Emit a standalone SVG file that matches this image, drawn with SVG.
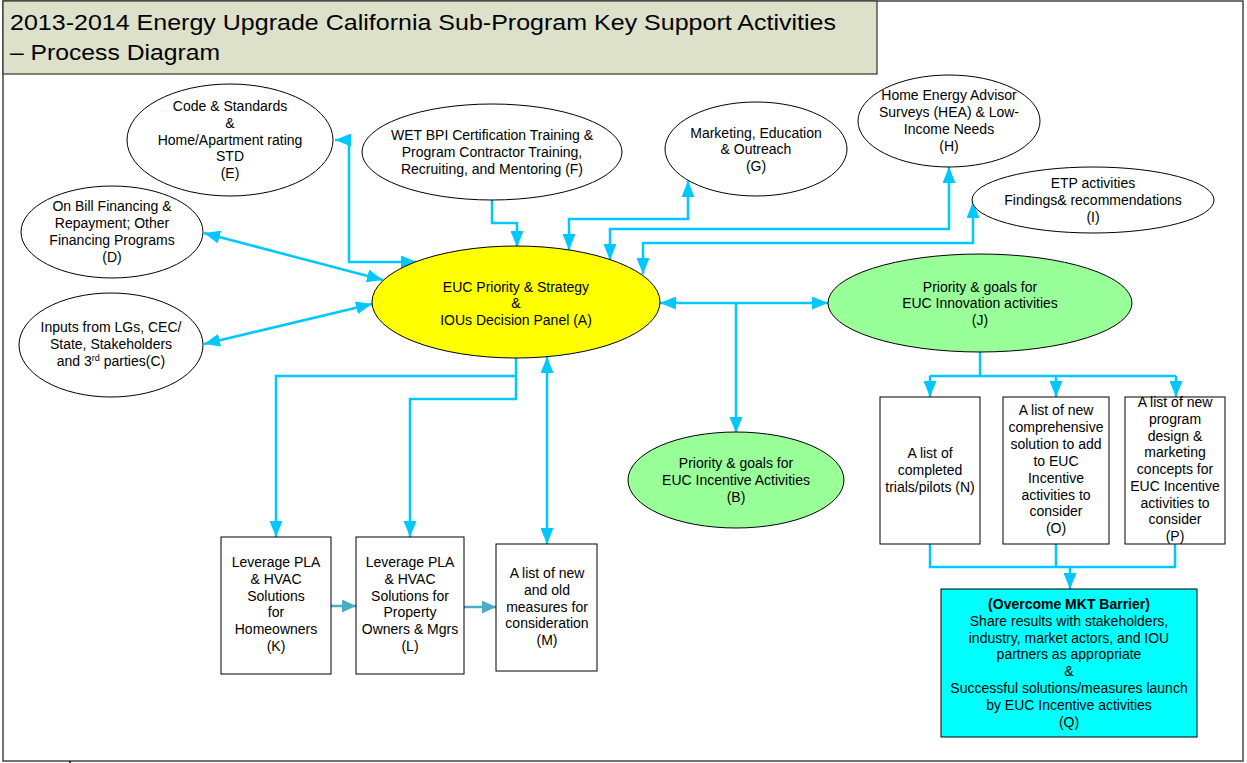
<svg xmlns="http://www.w3.org/2000/svg" width="1247" height="763" viewBox="0 0 1247 763">
<style>
text{font-family:"Liberation Sans",Arial,sans-serif;font-size:14px;fill:#000;text-anchor:middle}
.title{font-size:22px;text-anchor:start}
.node{stroke:#000;stroke-width:1}
.c{fill:none;stroke:#00C8FF;stroke-width:2.5}
.t{fill:none;stroke:#4BACC6;stroke-width:2.5}
</style>
<defs>
<marker id="ah" markerUnits="userSpaceOnUse" markerWidth="17" markerHeight="13" refX="16" refY="6.5" orient="auto-start-reverse"><path d="M0,0 L16,6.5 L0,13 z" fill="#00C8FF"/></marker>
<marker id="at" markerUnits="userSpaceOnUse" markerWidth="15" markerHeight="13" refX="14" refY="6.5" orient="auto"><path d="M0,0 L14,6.5 L0,13 z" fill="#4BACC6"/></marker>
</defs>
<rect x="3" y="1" width="1240" height="760" fill="#fff" stroke="#444" stroke-width="1.5"/>
<line x1="70" y1="761" x2="70" y2="763" stroke="#000" stroke-width="1.5"/>
<g id="title">
<rect x="3" y="1" width="874" height="73" fill="#DDE1C9" stroke="#333" stroke-width="1.2"/>
<text class="title" x="10" y="30" textLength="826" lengthAdjust="spacingAndGlyphs">2013-2014 Energy Upgrade California Sub-Program Key Support Activities</text>
<text class="title" x="10" y="60" textLength="210" lengthAdjust="spacingAndGlyphs">– Process Diagram</text>
</g>
<g id="connectors">
<path class="c" d="M335,140 H349 V262 H417" marker-start="url(#ah)" marker-end="url(#ah)"/>
<path class="c" d="M204,233 L383,280" marker-start="url(#ah)" marker-end="url(#ah)"/>
<path class="c" d="M204,344 L372,304" marker-start="url(#ah)" marker-end="url(#ah)"/>
<path class="c" d="M492,200 V223 H517 V247" marker-end="url(#ah)"/>
<path class="c" d="M569,250 V219 H688 V181" marker-start="url(#ah)" marker-end="url(#ah)"/>
<path class="c" d="M610,260 V229 H949 V167" marker-start="url(#ah)" marker-end="url(#ah)"/>
<path class="c" d="M643,274 V243 H973 V202" marker-start="url(#ah)" marker-end="url(#ah)"/>
<path class="c" d="M660,303 H828" marker-start="url(#ah)" marker-end="url(#ah)"/>
<path class="c" d="M736,303 V433" marker-end="url(#ah)"/>
<path class="c" d="M980,352 V376"/>
<path class="c" d="M930,376 H1176"/>
<path class="c" d="M930,376 V397" marker-end="url(#ah)"/>
<path class="c" d="M1056,376 V397" marker-end="url(#ah)"/>
<path class="c" d="M1176,376 V397" marker-end="url(#ah)"/>
<path class="c" d="M930,544 V567 H1175 V544"/>
<path class="c" d="M1056,544 V567"/>
<path class="c" d="M1070,567 V589" marker-end="url(#ah)"/>
<path class="c" d="M516,358 V399 H410 V537" marker-end="url(#ah)"/>
<path class="c" d="M516,376 H276 V537" marker-end="url(#ah)"/>
<path class="c" d="M547,357 V544" marker-start="url(#ah)" marker-end="url(#ah)"/>
<path class="t" d="M331,606 H356" marker-end="url(#at)"/>
<path class="t" d="M464,607 H496" marker-end="url(#at)"/>
</g>
<g id="E">
<ellipse class="node" cx="230" cy="140" rx="103" ry="56" fill="#fff"/>
<text x="230" y="111">Code &amp; Standards</text>
<text x="230" y="128">&amp;</text>
<text x="230" y="145">Home/Apartment rating</text>
<text x="230" y="161">STD</text>
<text x="230" y="178">(E)</text>
</g>
<g id="D">
<ellipse class="node" cx="112" cy="232" rx="91" ry="46" fill="#fff"/>
<text x="112" y="211">On Bill Financing &amp;</text>
<text x="112" y="228">Repayment; Other</text>
<text x="112" y="245">Financing Programs</text>
<text x="112" y="262">(D)</text>
</g>
<g id="C">
<ellipse class="node" cx="111" cy="345" rx="92" ry="52" fill="#fff"/>
<text x="111" y="332">Inputs from LGs, CEC/</text>
<text x="111" y="349">State, Stakeholders</text>
<text x="111" y="366">and 3<tspan font-size="9" dy="-5">rd</tspan><tspan dy="5"> parties(C)</tspan></text>
</g>
<g id="F">
<ellipse class="node" cx="492" cy="152" rx="130" ry="48" fill="#fff"/>
<text x="492" y="140">WET BPI Certification Training &amp;</text>
<text x="492" y="157">Program Contractor Training,</text>
<text x="492" y="174">Recruiting, and Mentoring (F)</text>
</g>
<g id="G">
<ellipse class="node" cx="756" cy="149" rx="91" ry="47" fill="#fff"/>
<text x="756" y="138">Marketing, Education</text>
<text x="756" y="154">&amp; Outreach</text>
<text x="756" y="171">(G)</text>
</g>
<g id="H">
<ellipse class="node" cx="949" cy="121" rx="91" ry="46" fill="#fff"/>
<text x="949" y="100">Home Energy Advisor</text>
<text x="949" y="117">Surveys (HEA) &amp; Low-</text>
<text x="949" y="134">Income Needs</text>
<text x="949" y="151">(H)</text>
</g>
<g id="I">
<ellipse class="node" cx="1093" cy="200" rx="121" ry="33" fill="#fff"/>
<text x="1093" y="188">ETP activities</text>
<text x="1093" y="205">Findings&amp; recommendations</text>
<text x="1093" y="222">(I)</text>
</g>
<g id="A">
<ellipse class="node" cx="516" cy="302" rx="144" ry="56" fill="#FFFF00"/>
<text x="516" y="292">EUC Priority &amp; Strategy</text>
<text x="516" y="308">&amp;</text>
<text x="516" y="325">IOUs Decision Panel (A)</text>
</g>
<g id="J">
<ellipse class="node" cx="980" cy="303" rx="152" ry="49" fill="#99FF99"/>
<text x="980" y="292">Priority &amp; goals for</text>
<text x="980" y="308">EUC Innovation activities</text>
<text x="980" y="325">(J)</text>
</g>
<g id="B">
<ellipse class="node" cx="736" cy="480" rx="108" ry="48" fill="#99FF99"/>
<text x="736" y="468">Priority &amp; goals for</text>
<text x="736" y="485">EUC Incentive Activities</text>
<text x="736" y="502">(B)</text>
</g>
<g id="N">
<rect class="node" x="880" y="397" width="100" height="147" fill="#fff"/>
<text x="930" y="458">A list of</text>
<text x="930" y="475">completed</text>
<text x="930" y="492">trials/pilots (N)</text>
</g>
<g id="O">
<rect class="node" x="1003" y="397" width="106" height="147" fill="#fff"/>
<text x="1056" y="415">A list of new</text>
<text x="1056" y="432">comprehensive</text>
<text x="1056" y="449">solution to add</text>
<text x="1056" y="466">to EUC</text>
<text x="1056" y="483">Incentive</text>
<text x="1056" y="500">activities to</text>
<text x="1056" y="516">consider</text>
<text x="1056" y="533">(O)</text>
</g>
<g id="P">
<rect class="node" x="1125" y="397" width="100" height="147" fill="#fff"/>
<text x="1175" y="407">A list of new</text>
<text x="1175" y="424">program</text>
<text x="1175" y="441">design &amp;</text>
<text x="1175" y="457">marketing</text>
<text x="1175" y="474">concepts for</text>
<text x="1175" y="491">EUC Incentive</text>
<text x="1175" y="508">activities to</text>
<text x="1175" y="524">consider</text>
<text x="1175" y="541">(P)</text>
</g>
<g id="Q">
<rect class="node" x="941" y="589" width="256" height="148" fill="#00FFFF"/>
<text x="1069" y="609" font-weight="bold">(Overcome MKT Barrier)</text>
<text x="1069" y="626">Share results with stakeholders,</text>
<text x="1069" y="643">industry, market actors, and IOU</text>
<text x="1069" y="659">partners as appropriate</text>
<text x="1069" y="676">&amp;</text>
<text x="1069" y="693">Successful solutions/measures launch</text>
<text x="1069" y="710">by EUC Incentive activities</text>
<text x="1069" y="727">(Q)</text>
</g>
<g id="K">
<rect class="node" x="221" y="537" width="110" height="137" fill="#fff"/>
<text x="276" y="567">Leverage PLA</text>
<text x="276" y="584">&amp; HVAC</text>
<text x="276" y="601">Solutions</text>
<text x="276" y="617">for</text>
<text x="276" y="634">Homeowners</text>
<text x="276" y="651">(K)</text>
</g>
<g id="L">
<rect class="node" x="356" y="537" width="108" height="137" fill="#fff"/>
<text x="410" y="567">Leverage PLA</text>
<text x="410" y="584">&amp; HVAC</text>
<text x="410" y="601">Solutions for</text>
<text x="410" y="617">Property</text>
<text x="410" y="634">Owners &amp; Mgrs</text>
<text x="410" y="651">(L)</text>
</g>
<g id="M">
<rect class="node" x="496" y="544" width="101" height="127" fill="#fff"/>
<text x="547" y="578">A list of new</text>
<text x="547" y="595">and old</text>
<text x="547" y="612">measures for</text>
<text x="547" y="628">consideration</text>
<text x="547" y="645">(M)</text>
</g>
</svg>
